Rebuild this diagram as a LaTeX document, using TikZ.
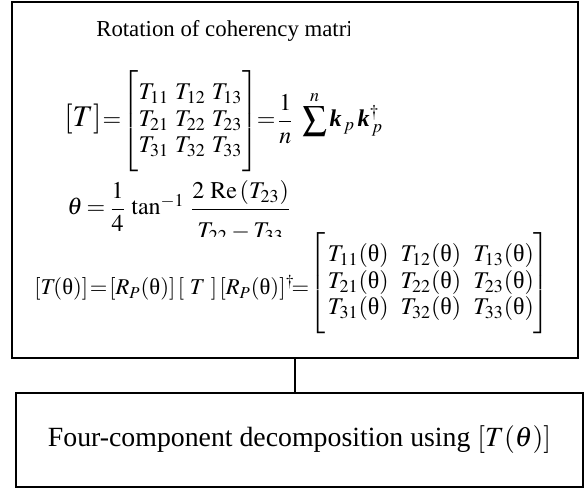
\documentclass[tikz,border=0pt]{standalone}
\usepackage{amsmath}
\usepackage{mathptmx}
\usepackage[no-math]{fontspec}
\setmainfont{Liberation Serif}
\usetikzlibrary{positioning}

\newcommand{\upth}{\text{θ}}
\newcommand{\bk}{\text{\bfseries\itshape k}}

\tikzset{
  blockbox/.style={draw, line width=1.3pt, inner sep=0pt},
  eqtext/.style={anchor=base west, inner sep=0pt, font=\fontsize{12}{14}\selectfont},
}

\begin{document}
\begin{tikzpicture}[line width=1.3pt, line join=miter, x=0.5pt, y=-0.5pt]
  \useasboundingbox (0,0) rectangle (586,491);
  % --- upper block: rotation of the coherency matrix ---
  \node (rotbox) [blockbox, minimum width=283pt, minimum height=178pt] at (295,180) {};
  \begin{scope}
    \clip (80,5) rectangle (350,50);
    \node (title) [eqtext, font=\fontsize{11.4}{14}\selectfont] at (95,37) {Rotation of coherency matrix};
  \end{scope}
  \node (eqT) [eqtext] at (63,127)
    {$\thickmuskip=1mu \renewcommand{\arraystretch}{0.95}
     \text{\fontsize{15}{18}\selectfont$[T]$}=\left[\rule[-24pt]{0pt}{54pt}\begin{array}{@{}c@{\ }c@{\ }c@{}}
      T_{11} & T_{12} & T_{13}\\
      T_{21} & T_{22} & T_{23}\\
      T_{31} & T_{32} & T_{33}
     \end{array}\right]\!=\dfrac{1}{n}\ \displaystyle\sum^{n}\bk_{\,p}\,\bk_{\,p}^{\dagger}$};
  \begin{scope}
    \clip (40,170) rectangle (400,237);
    \node (eqtheta) [eqtext] at (66,215)
      {$\thickmuskip=3mu
       \theta=\dfrac{1}{4}\,\tan^{-1}\,\dfrac{2\ \mathrm{Re}\,(T_{23})}{\rule{0pt}{13pt}T_{22}-T_{33}}$};
  \end{scope}
  \node (eqrot) [eqtext] at (33,295)
    {$\thickmuskip=1.5mu \renewcommand{\arraystretch}{0.95}
     \text{\fontsize{11.3}{14}\selectfont$[T\mkern-2mu(\upth)]=[R_{P}(\upth)]\,[\ T\ ]\,[R_{P}(\upth)]^{\dagger}\!\!=$}\raisebox{3pt}{$\left[\rule[-20pt]{0pt}{47pt}\begin{array}{@{\,}c@{\ \ }c@{\ \ }c@{}}
      T_{11}(\upth) & T_{12}(\upth) & T_{13}(\upth)\\
      T_{21}(\upth) & T_{22}(\upth) & T_{23}(\upth)\\
      T_{31}(\upth) & T_{32}(\upth) & T_{33}(\upth)
     \end{array}\right]$}$};
  % --- lower block: decomposition ---
  \node (decbox) [blockbox, minimum width=283.5pt, minimum height=47pt,
    font=\fontsize{13.9}{16}\selectfont] at (299.5,440) {Four-component decomposition using $[T(\theta)]$};
  % --- connector ---
  \draw (rotbox.south) -- (rotbox.south |- decbox.north);
\end{tikzpicture}
\end{document}
